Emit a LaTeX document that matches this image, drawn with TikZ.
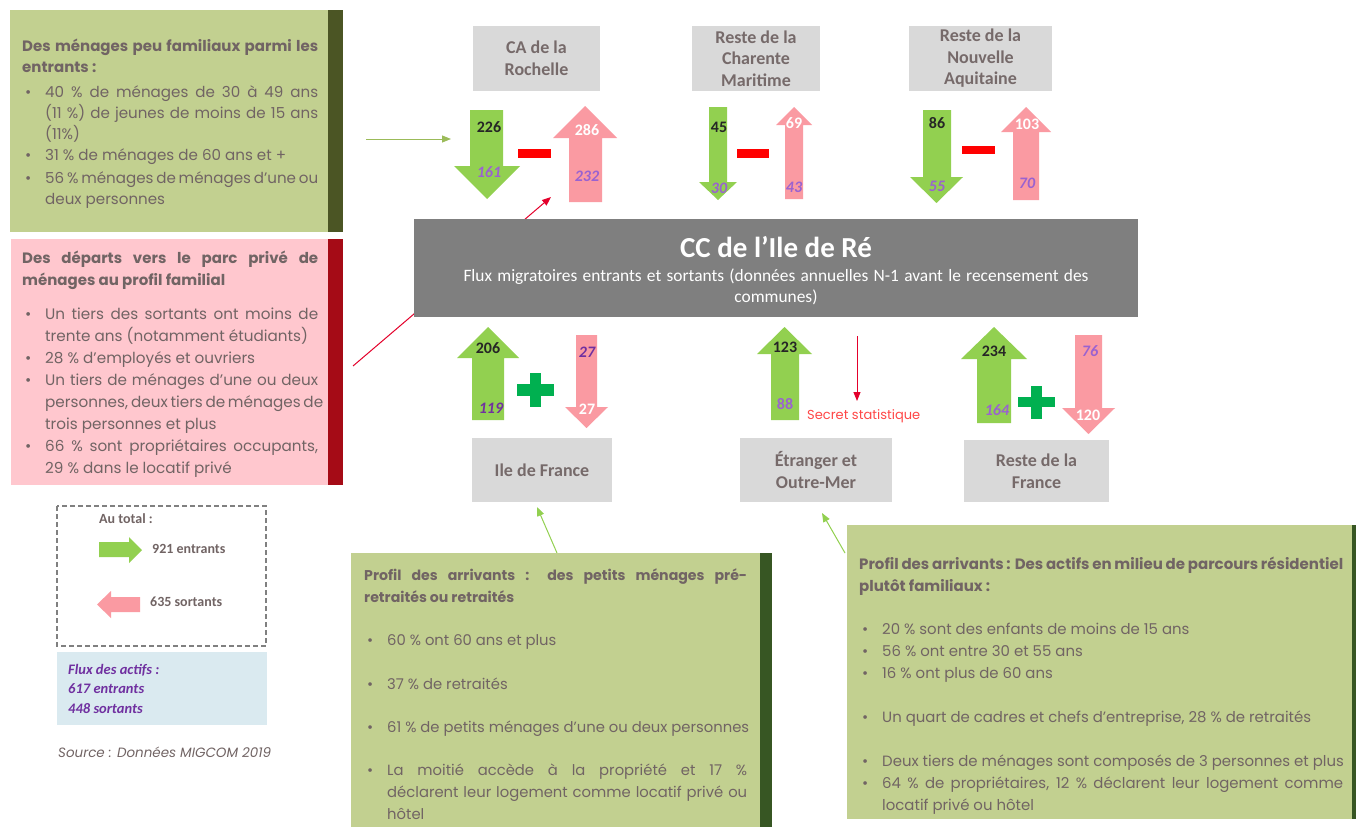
\documentclass[tikz,border=0pt]{standalone}
\usepackage{fontspec}
\setmainfont{Poppins}
\newfontfamily\calib{Carlito}
\usetikzlibrary{arrows.meta}
\definecolor{txtg}{HTML}{716464}
\definecolor{boxtxt}{HTML}{766A6A}
\definecolor{lgreen}{HTML}{C2D090}
\definecolor{barA}{HTML}{4B5524}
\definecolor{barB}{HTML}{375623}
\definecolor{pinkbox}{HTML}{FFC7CE}
\definecolor{redbar}{HTML}{A50B16}
\definecolor{arrgreen}{HTML}{92D050}
\definecolor{arrpink}{HTML}{FA9AA2}
\definecolor{grayb}{HTML}{D9D9D9}
\definecolor{central}{HTML}{7F7F7F}
\definecolor{purd}{HTML}{7030A0}
\definecolor{purl}{HTML}{9A62D0}
\definecolor{plusg}{HTML}{00B050}
\definecolor{minusr}{HTML}{FF0000}
\definecolor{blueb}{HTML}{DAEAF0}
\definecolor{olive}{HTML}{9BBB59}
\definecolor{linkred}{HTML}{E4002B}
\definecolor{secret}{HTML}{FF4747}
\definecolor{dashg}{HTML}{808080}
\newlength\tmpw
\newcommand\fitfont[4]{\settowidth\tmpw{#2\fontsize{10}{12}\selectfont #4}\pgfmathsetmacro#1{10*#3/\tmpw}}
\newcommand\blockarrow[8]{\fill[#1] (#2,#4) -- (#3,#4) -- (#3,#7) -- (#6,#7) -- ({(#5+#6)/2},#8) -- (#5,#7) -- (#2,#7) -- cycle;}
\newcommand\bitem[1]{\hspace*{3pt}\makebox[20pt][l]{\textbullet}#1}
\newcommand\citem[1]{\hspace*{23pt}#1}
\newcommand\jus[2]{\makebox[#1pt][s]{#2}}
\begin{document}
\fitfont\fzA{\rmfamily}{241}{31 \% de ménages de 60 ans et +}%
\fitfont\fzB{\rmfamily}{210}{28 \% d’employés et ouvriers}%
\fitfont\fzC{\rmfamily}{362}{61 \% de petits ménages d’une ou deux personnes}%
\fitfont\fzD{\rmfamily}{429}{Un quart de cadres et chefs d’entreprise, 28 \% de retraités}%
\fitfont\hzB{\rmfamily\bfseries}{203}{ménages au profil familial}%
\fitfont\hzC{\rmfamily\bfseries}{150}{retraités ou retraités}%
\fitfont\hzD{\rmfamily\bfseries}{131}{plutôt familiaux :}%
\fitfont\fzS{\rmfamily}{113}{Secret statistique}%
\fitfont\fzQ{\rmfamily\itshape}{213}{Source : Données MIGCOM 2019}%
\fitfont\fzT{\calib}{610}{Flux migratoires entrants et sortants (données annuelles N-1 avant le recensement des}%
\begin{tikzpicture}[x=1pt,y=-1pt,
  graybox/.style={fill=grayb, text=boxtxt, font=\calib\bfseries\fontsize{18}{21.5}\selectfont, align=center, inner sep=0},
  num/.style={font=\calib\bfseries\fontsize{16}{16}\selectfont, inner sep=0},
  numi/.style={font=\calib\bfseries\itshape\fontsize{16}{16}\selectfont, inner sep=0},
  para/.style={anchor=base west, inner sep=0, text=txtg},
  link/.style={-{Triangle[length=9pt,width=7pt]}, line width=1pt},
  leg/.style={anchor=west, inner sep=0, text=txtg, font=\calib\bfseries\fontsize{14}{16}\selectfont},
  act/.style={anchor=west, inner sep=0, text=purd, font=\calib\bfseries\itshape\fontsize{14.5}{16}\selectfont},
  subt/.style={anchor=base, inner sep=0, text=white, font=\calib\fontsize{\fzT}{18}\selectfont}]
\useasboundingbox (0,0) rectangle (1357,827);
\fill[white] (0,0) rectangle (1357,827);

% ---------- left boxes
\fill[lgreen] (10,10) rectangle (328,232);
\fill[barA] (328,10) rectangle (343,232);
\node[para, font=\fontsize{\fzA}{21}\selectfont] (tltext) at (22,51) {\parbox[t]{300pt}{%
{\bfseries\fontsize{\hzB}{21}\selectfont\jus{296}{Des ménages peu familiaux parmi les}\\entrants :}\\[4pt]
\bitem{\jus{273}{40 \% de ménages de 30 à 49 ans}}\\
\citem{\jus{273}{(11 \%) de jeunes de moins de 15 ans}}\\
\citem{(11\%)}\\
\bitem{31 \% de ménages de 60 ans et +}\\[2pt]
\bitem{\jus{273}{56 \% ménages de ménages d’une ou}}\\
\citem{deux personnes}}};

\fill[pinkbox] (11,239) rectangle (328,485);
\fill[redbar] (328,239) rectangle (343,485);
\node[para, font=\fontsize{\fzB}{22}\selectfont] (pktext) at (22,263) {\parbox[t]{300pt}{%
{\bfseries\fontsize{\hzB}{22}\selectfont\jus{296}{Des départs vers le parc privé de}\\ménages au profil familial}\\[12pt]
\bitem{\jus{273}{Un tiers des sortants ont moins de}}\\
\citem{trente ans (notamment étudiants)}\\
\bitem{28 \% d’employés et ouvriers}\\
\bitem{\jus{273}{Un tiers de ménages d’une ou deux}}\\
\citem{\jus{273}{personnes, deux tiers de ménages de}}\\
\citem{trois personnes et plus}\\
\bitem{\jus{273}{66 \% sont propriétaires occupants,}}\\
\citem{29 \% dans le locatif privé}}};

% ---------- legend
\draw[dashg, dash pattern=on 5pt off 3pt, line width=1.2pt] (57,506) rectangle (266,646);
\node[leg] (autot) at (99,519) {Au total :};
\fill[arrgreen] (99,542) -- (129,542) -- (129,537) -- (142,550) -- (129,563) -- (129,557) -- (99,557) -- cycle;
\node[leg] (ent) at (152,549) {921 entrants};
\fill[arrpink] (140,597) -- (111,597) -- (111,591) -- (97,604.5) -- (111,618) -- (111,612) -- (140,612) -- cycle;
\node[leg] (sor) at (150,602) {635 sortants};
\fill[blueb] (57,652) rectangle (267,725);
\node[act] (act1) at (68,670) {Flux des actifs :};
\node[act] (act2) at (68,689) {617 entrants};
\node[act] (act3) at (68,709) {448 sortants};
\node[para, font=\itshape\fontsize{\fzQ}{16}\selectfont] (src) at (58,757) {Source : Données MIGCOM 2019};

% ---------- connectors behind central box
\coordinate (rd1) at (353,366);
\coordinate (rd2) at (551,197);
\draw[link, linkred] (rd1) -- (rd2);

% ---------- central box
\fill[central] (414,219) rectangle (1138,317);
\node[anchor=base, inner sep=0, text=white, font=\calib\bfseries\fontsize{29}{32}\selectfont] (title) at (776,257) {CC de l’Ile de Ré};
\node[subt] (sub1) at (776,281) {\jus{625}{Flux migratoires entrants et sortants (données annuelles N-1 avant le recensement des}};
\node[subt] (sub2) at (776,302) {communes)};

% ---------- top boxes
\node[graybox, minimum width=127, minimum height=65] (caroch) at (536.5,58.5) {CA de la\\Rochelle};
\node[graybox, minimum width=128, minimum height=65] (charente) at (756,58.5) {Reste de la\\Charente\\Maritime};
\node[graybox, minimum width=143, minimum height=65] (aquit) at (980.5,58.5) {Reste de la\\Nouvelle\\Aquitaine};

% top arrows
\blockarrow{arrgreen}{470}{503}{110}{454}{520}{166}{199}
\blockarrow{arrpink}{569}{602}{202}{553}{617}{138}{106}
\blockarrow{arrgreen}{709}{727}{107}{699}{737}{182}{200}
\blockarrow{arrpink}{785}{803}{199}{776}{812}{125}{107}
\blockarrow{arrgreen}{923}{951}{110}{910}{963}{177}{203}
\blockarrow{arrpink}{1013}{1039}{200}{1001}{1051}{132}{107}
\fill[minusr] (518,149) rectangle (551,158);
\fill[minusr] (737,149) rectangle (769,158);
\fill[minusr] (962,146) rectangle (995,154);

\node[num, text=black!85] (n226) at (489,127) {226};
\node[numi, text=purl] (n161) at (489,172) {161};
\node[num, text=white] (n286) at (587,130) {286};
\node[numi, text=purl] (n232) at (587,176) {232};
\node[num, text=black!85] (n45) at (719,127) {45};
\node[numi, text=purl] (n30) at (719,188) {30};
\node[num, text=white] (n69) at (794,123) {69};
\node[numi, text=purl] (n43) at (794,187) {43};
\node[num, text=black!85] (n86) at (937,123) {86};
\node[numi, text=purl] (n55) at (937,186) {55};
\node[num, text=white] (n103) at (1027,124) {103};
\node[numi, text=purl] (n70) at (1027,183) {70};

% ---------- bottom arrows
\blockarrow{arrgreen}{472}{504}{420}{457}{519}{358}{327}
\blockarrow{arrpink}{576}{597}{335}{565}{608}{407}{428}
\blockarrow{arrgreen}{771}{799}{420}{757}{812}{354}{327}
\blockarrow{arrgreen}{977}{1011}{423}{961}{1027}{359}{327}
\blockarrow{arrpink}{1075}{1102}{335}{1062}{1115}{408}{434}
\fill[plusg] (517,384) rectangle (554,396);
\fill[plusg] (530,373) rectangle (541,407);
\fill[plusg] (1018,397) rectangle (1055,407);
\fill[plusg] (1031,386) rectangle (1042,419);

\node[num, text=black!85] (n206) at (488,348) {206};
\node[numi, text=purd] (n119) at (491,408) {119};
\node[numi, text=purd] (n27a) at (587,352) {27};
\node[num, text=white] (n27b) at (587,409) {27};
\node[num, text=black!85] (n123) at (785,347) {123};
\node[num, text=purl] (n88) at (785,404) {88};
\node[num, text=black!85] (n234) at (994,351) {234};
\node[numi, text=purl] (n164) at (997,410) {164};
\node[numi, text=purl] (n76) at (1090,351) {76};
\node[num, text=white] (n120) at (1088,415) {120};

\coordinate (s1) at (857,336);
\coordinate (s2) at (857,401);
\draw[link, linkred] (s1) -- (s2);
\node[anchor=west, inner sep=0, text=secret, font=\fontsize{\fzS}{14}\selectfont] (secr) at (807,416) {Secret statistique};

% bottom boxes
\node[graybox, minimum width=140, minimum height=64] (idf) at (542,470) {Ile de France};
\node[graybox, minimum width=152, minimum height=64] (etr) at (816,470) {Étranger et\\Outre-Mer};
\node[graybox, minimum width=145, minimum height=62] (rfr) at (1036.5,471) {Reste de la\\France};

% ---------- other connectors
\coordinate (ol1) at (366,139);
\coordinate (ol2) at (451,139);
\draw[link, olive] (ol1) -- (ol2);
\coordinate (g1a) at (557,553);
\coordinate (g1b) at (537,507);
\draw[link, arrgreen] (g1a) -- (g1b);
\coordinate (g2a) at (845,553);
\coordinate (g2b) at (822,513);
\draw[link, arrgreen] (g2a) -- (g2b);

% ---------- bottom profile boxes
\fill[lgreen] (351,553) rectangle (760,827);
\fill[barB] (760,553) rectangle (772,827);
\node[para, font=\fontsize{\fzC}{22}\selectfont] (bmtext) at (364,580) {\parbox[t]{390pt}{%
{\bfseries\fontsize{\hzC}{22}\selectfont\jus{383}{Profil des arrivants : des petits ménages pré-}\\retraités ou retraités}\\[21pt]
\bitem{60 \% ont 60 ans et plus}\\[22pt]
\bitem{37 \% de retraités}\\[21pt]
\bitem{61 \% de petits ménages d’une ou deux personnes}\\[21pt]
\bitem{\jus{360}{La moitié accède à la propriété et 17 \%}}\\
\citem{\jus{360}{déclarent leur logement comme locatif privé ou}}\\
\citem{hôtel}}};

\fill[lgreen] (847,525) rectangle (1352,819);
\fill[barB] (1352,525) rectangle (1356,819);
\node[para, font=\fontsize{\fzD}{22}\selectfont] (brtext) at (859,569) {\parbox[t]{490pt}{%
{\bfseries\fontsize{\hzD}{22}\selectfont\jus{484}{Profil des arrivants : Des actifs en milieu de parcours résidentiel}\\plutôt familiaux :}\\[21pt]
\bitem{20 \% sont des enfants de moins de 15 ans}\\
\bitem{56 \% ont entre 30 et 55 ans}\\
\bitem{16 \% ont plus de 60 ans}\\[22pt]
\bitem{Un quart de cadres et chefs d’entreprise, 28 \% de retraités}\\[22pt]
\bitem{Deux tiers de ménages sont composés de 3 personnes et plus}\\
\bitem{\jus{461}{64 \% de propriétaires, 12 \% déclarent leur logement comme}}\\
\citem{locatif privé ou hôtel}}};
\end{tikzpicture}
\end{document}
